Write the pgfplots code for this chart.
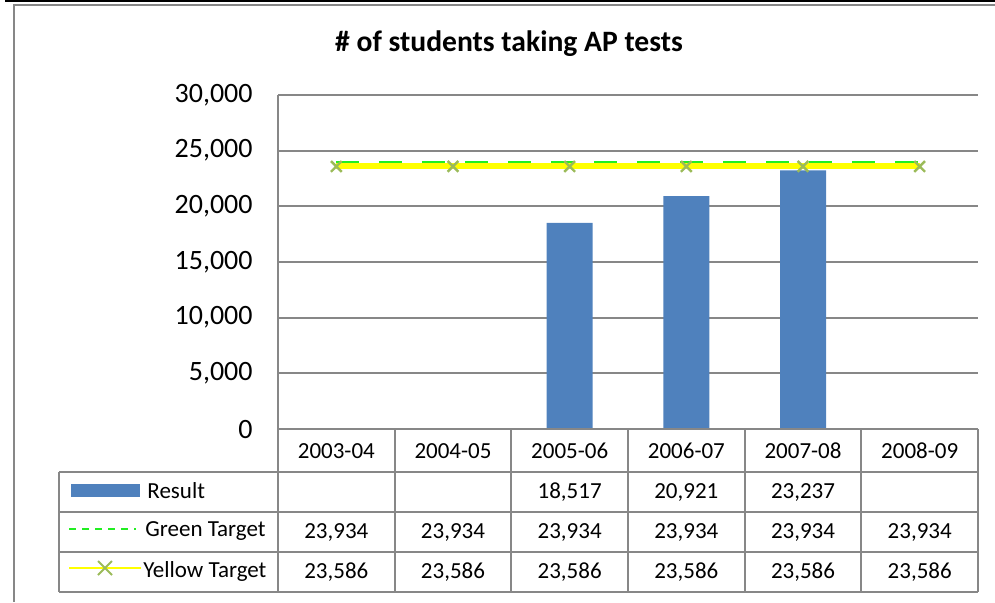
\documentclass[border=0pt]{standalone}
\usepackage{fontspec}
\setmainfont{Carlito}
\usepackage{pgfplots}
\pgfplotsset{compat=1.18}
\definecolor{barblue}{HTML}{4F81BD}
\definecolor{gridgray}{HTML}{878787}
\definecolor{markgreen}{HTML}{9BBB59}
\definecolor{brightgreen}{HTML}{22EE22}
\definecolor{brightyellow}{HTML}{FFFF00}
\begin{document}
\begin{tikzpicture}[x=0.5pt,y=-0.5pt]
\useasboundingbox (0,0) rectangle (995,602);
% outer frame
\draw[black, line width=1pt] (5,1) -- (995,1);
\draw[gridgray, line width=1pt] (995,5) -- (13.5,5) -- (13.5,602);
% title
\node[font=\fontsize{14.8}{17}\selectfont\bfseries] at (509,44) {\# of students taking AP tests};
\begin{axis}[
  at={(139pt,-214.5pt)}, anchor=south west,
  width=350pt, height=167pt, scale only axis,
  xmin=-0.5, xmax=5.5, ymin=0, ymax=30000,
  xtick=\empty,
  ytick={0,5000,10000,15000,20000,25000,30000},
  scaled y ticks=false,
  ymajorgrids,
  grid style={gridgray, line width=1pt},
  axis line style={draw=none},
  major tick length=0pt,
  clip=false,
  yticklabel={\pgfmathprintnumber[fixed,precision=0,1000 sep={,}]{\tick}},
  /pgf/number format/assume math mode=true,
  yticklabel style={font=\fontsize{14}{16}\selectfont, inner sep=0pt, xshift=-12.5pt},
]
\addplot[ybar, bar width=23pt, fill=barblue, draw=none] coordinates {(2,18517) (3,20921) (4,23237)};
\addplot[brightgreen, line width=1.5pt, dash pattern=on 11.5pt off 10pt, mark=none] coordinates {(0,23934) (1,23934) (2,23934) (3,23934) (4,23934) (5,23934)};
\addplot[brightyellow, line width=3pt, mark=x, mark size=3.8pt, mark options={draw=markgreen, line width=1.2pt, solid}] coordinates {(0,23586) (1,23586) (2,23586) (3,23586) (4,23586) (5,23586)};
\end{axis}
% data table
\begin{scope}[gridgray, line width=1pt]
\draw (278,95) -- (278,592);
\foreach \xx in {394.67,511.33,628,744.67,861.33,978} \draw (\xx,429) -- (\xx,592);
\draw (278,429) -- (978,429);
\foreach \yy in {472,512,552,592} \draw (59,\yy) -- (978,\yy);
\draw (59,472) -- (59,592);
\end{scope}
\begin{scope}[font=\fontsize{11.5}{13}\selectfont]
\foreach \lab [count=\i from 0] in {2003-04,2004-05,2005-06,2006-07,2007-08,2008-09}
  \node at (336.33+116.67*\i,451) {\lab};
\foreach \v [count=\i from 2] in {18{,}517,20{,}921,23{,}237}
  \node at (336.33+116.67*\i,492) {\v};
\foreach \i in {0,...,5} {
  \node at (336.33+116.67*\i,532) {23,934};
  \node at (336.33+116.67*\i,572) {23,586};
}
\node[anchor=west, inner sep=0pt] at (147,491) {Result};
\node[anchor=west, inner sep=0pt] at (145,531) {Green Target};
\node[anchor=west, inner sep=0pt] at (143,571) {Yellow Target};
\end{scope}
\fill[barblue] (71,484) rectangle (140,497);
\draw[brightgreen, line width=0.7pt, dash pattern=on 3.5pt off 3pt] (69,529) -- (136,529);
\draw[brightyellow, line width=1pt] (69,568) -- (141,568);
\draw[markgreen, line width=1pt] (98,561) -- (112,575) (98,575) -- (112,561);
\end{tikzpicture}
\end{document}
